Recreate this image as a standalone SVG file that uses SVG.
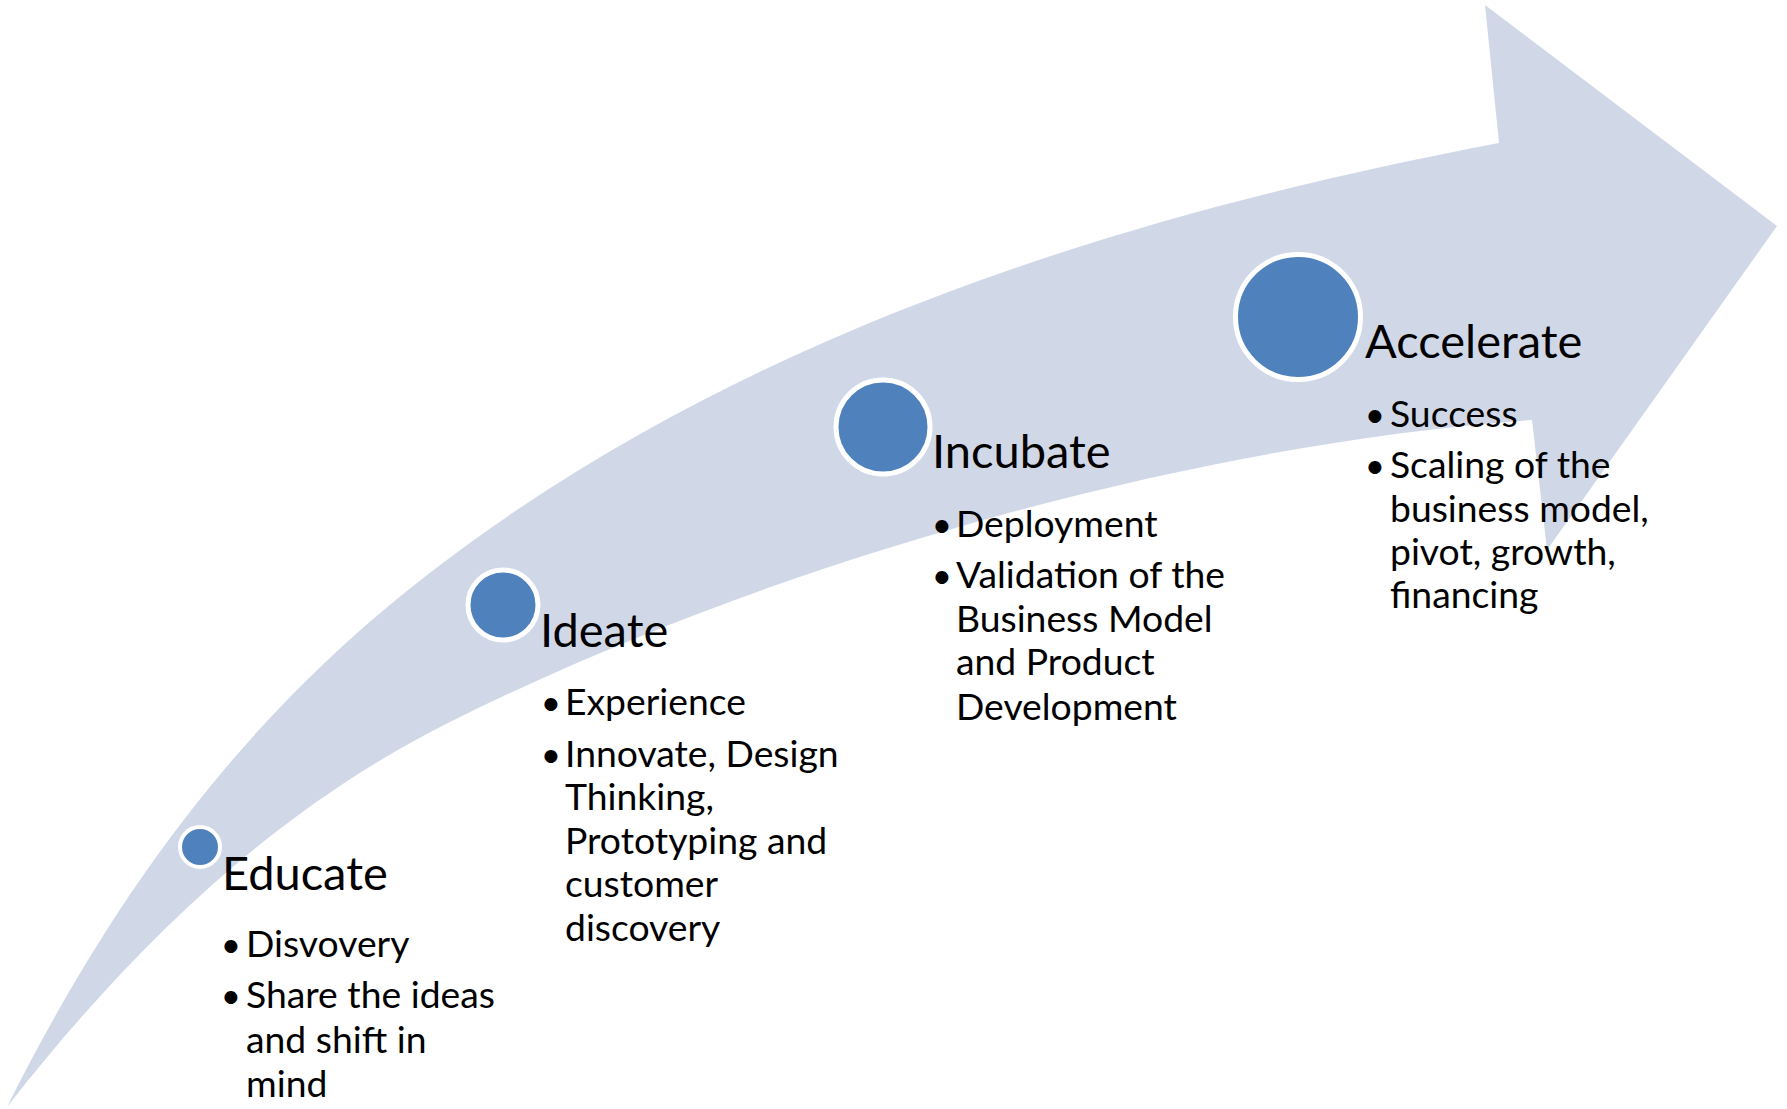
<svg xmlns="http://www.w3.org/2000/svg" width="1787" height="1109" viewBox="0 0 1787 1109">
<style>
.band{fill:#D0D8E8;stroke:none}
.dot{fill:#4F81BD;stroke:#FFFFFF;stroke-width:5}
.title{font-family:Lato,"Liberation Sans",sans-serif;font-size:47px;fill:#000}
.body{font-family:Lato,"Liberation Sans",sans-serif;font-size:37.3px;fill:#000}
.bul{font-family:Lato,"Liberation Sans",sans-serif;font-size:35px;fill:#000;text-anchor:middle}
</style>
<rect width="1787" height="1109" fill="#FFFFFF"/>
<g id="connectors">
<path id="arrow" class="band" d="M7 1107 C157 807 317 654.5 467 545 C787 311.4 1179 203.8 1499 143 L1485 5 L1777 226 L1547 550 L1532 420 C1202 443.1 780 557 450 722 C300 797 157 915 7 1107 Z"/>
</g>
<g id="educate">
<circle class="dot" cx="200" cy="847" r="20" style="stroke-width:4"/>
<text class="title" x="222" y="890">Educate</text>
<text class="bul" x="231" y="957">•</text>
<text class="body" x="246" y="957">Disvovery</text>
<text class="bul" x="231" y="1008">•</text>
<text class="body" x="246" y="1008">Share the ideas</text>
<text class="body" x="246" y="1053">and shift in</text>
<text class="body" x="246" y="1097">mind</text>
</g>
<g id="ideate">
<circle class="dot" cx="503" cy="605" r="35"/>
<text class="title" x="540" y="647">Ideate</text>
<text class="bul" x="551" y="715">•</text>
<text class="body" x="565" y="715">Experience</text>
<text class="bul" x="551" y="767">•</text>
<text class="body" x="565" y="767">Innovate, Design</text>
<text class="body" x="565" y="810">Thinking,</text>
<text class="body" x="565" y="854">Prototyping and</text>
<text class="body" x="565" y="897">customer</text>
<text class="body" x="565" y="941">discovery</text>
</g>
<g id="incubate">
<circle class="dot" cx="883" cy="427" r="47"/>
<text class="title" x="932" y="468">Incubate</text>
<text class="bul" x="942" y="537">•</text>
<text class="body" x="956" y="537">Deployment</text>
<text class="bul" x="942" y="588">•</text>
<text class="body" x="956" y="588">Validation of the</text>
<text class="body" x="956" y="632">Business Model</text>
<text class="body" x="956" y="675">and Product</text>
<text class="body" x="956" y="720">Development</text>
</g>
<g id="accelerate">
<circle class="dot" cx="1298" cy="317" r="62.5"/>
<text class="title" x="1365" y="358">Accelerate</text>
<text class="bul" x="1375" y="427">•</text>
<text class="body" x="1390" y="427">Success</text>
<text class="bul" x="1375" y="478">•</text>
<text class="body" x="1390" y="478">Scaling of the</text>
<text class="body" x="1390" y="522">business model,</text>
<text class="body" x="1390" y="565">pivot, growth,</text>
<text class="body" x="1390" y="608">financing</text>
</g>
</svg>
